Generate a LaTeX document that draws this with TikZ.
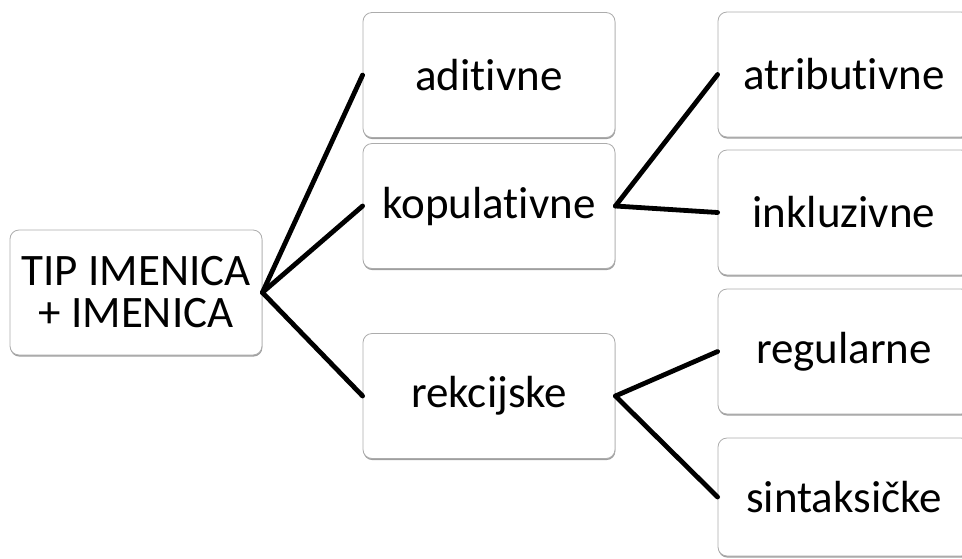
\documentclass[tikz,border=0pt]{standalone}
\usepackage{fontspec}
\setmainfont[Ligatures=NoCommon]{Carlito}
\usetikzlibrary{shadows}

\tikzset{
  box/.style={draw=gray!65, line width=0.8pt, rounded corners=9pt, fill=white,
    minimum width=252pt, minimum height=125pt, inner sep=0pt, align=center,
    font=\fontsize{45}{42}\selectfont,
    drop shadow={shadow xshift=0.4pt, shadow yshift=-1.6pt, fill=gray!75, opacity=1}},
  link/.style={line width=4.8pt, line cap=round}
}

\begin{document}
\begin{tikzpicture}[x=1pt, y=-1pt]
        \useasboundingbox (0,0) rectangle (962,558);

        \node[box] at (136, 292.5)(root){TIP IMENICA\\+ IMENICA};
        \node[box] at (489, 75)(adi){aditivne};
        \node[box] at (489, 206)(kop){kopulativne};
        \node[box] at (489, 396)(rek){rekcijske};
        \node[box] at (844, 74.5)(atr){atributivne};
        \node[box] at (844, 212.5)(ink){inkluzivne};
        \node[box] at (844, 351.5)(reg){regularne};
        \node[box, minimum height=118pt] at (844, 497)(sin){sintaksičke};

        \path[link]
        (root.east)edge(adi.west)
        (root.east)edge(kop.west)
        (root.east)edge(rek.west)
        (kop.east)edge(atr.west)
        (kop.east)edge(ink.west)
        (rek.east)edge(reg.west)
        (rek.east)edge(sin.west)
        ;
    \end{tikzpicture}
\end{document}
